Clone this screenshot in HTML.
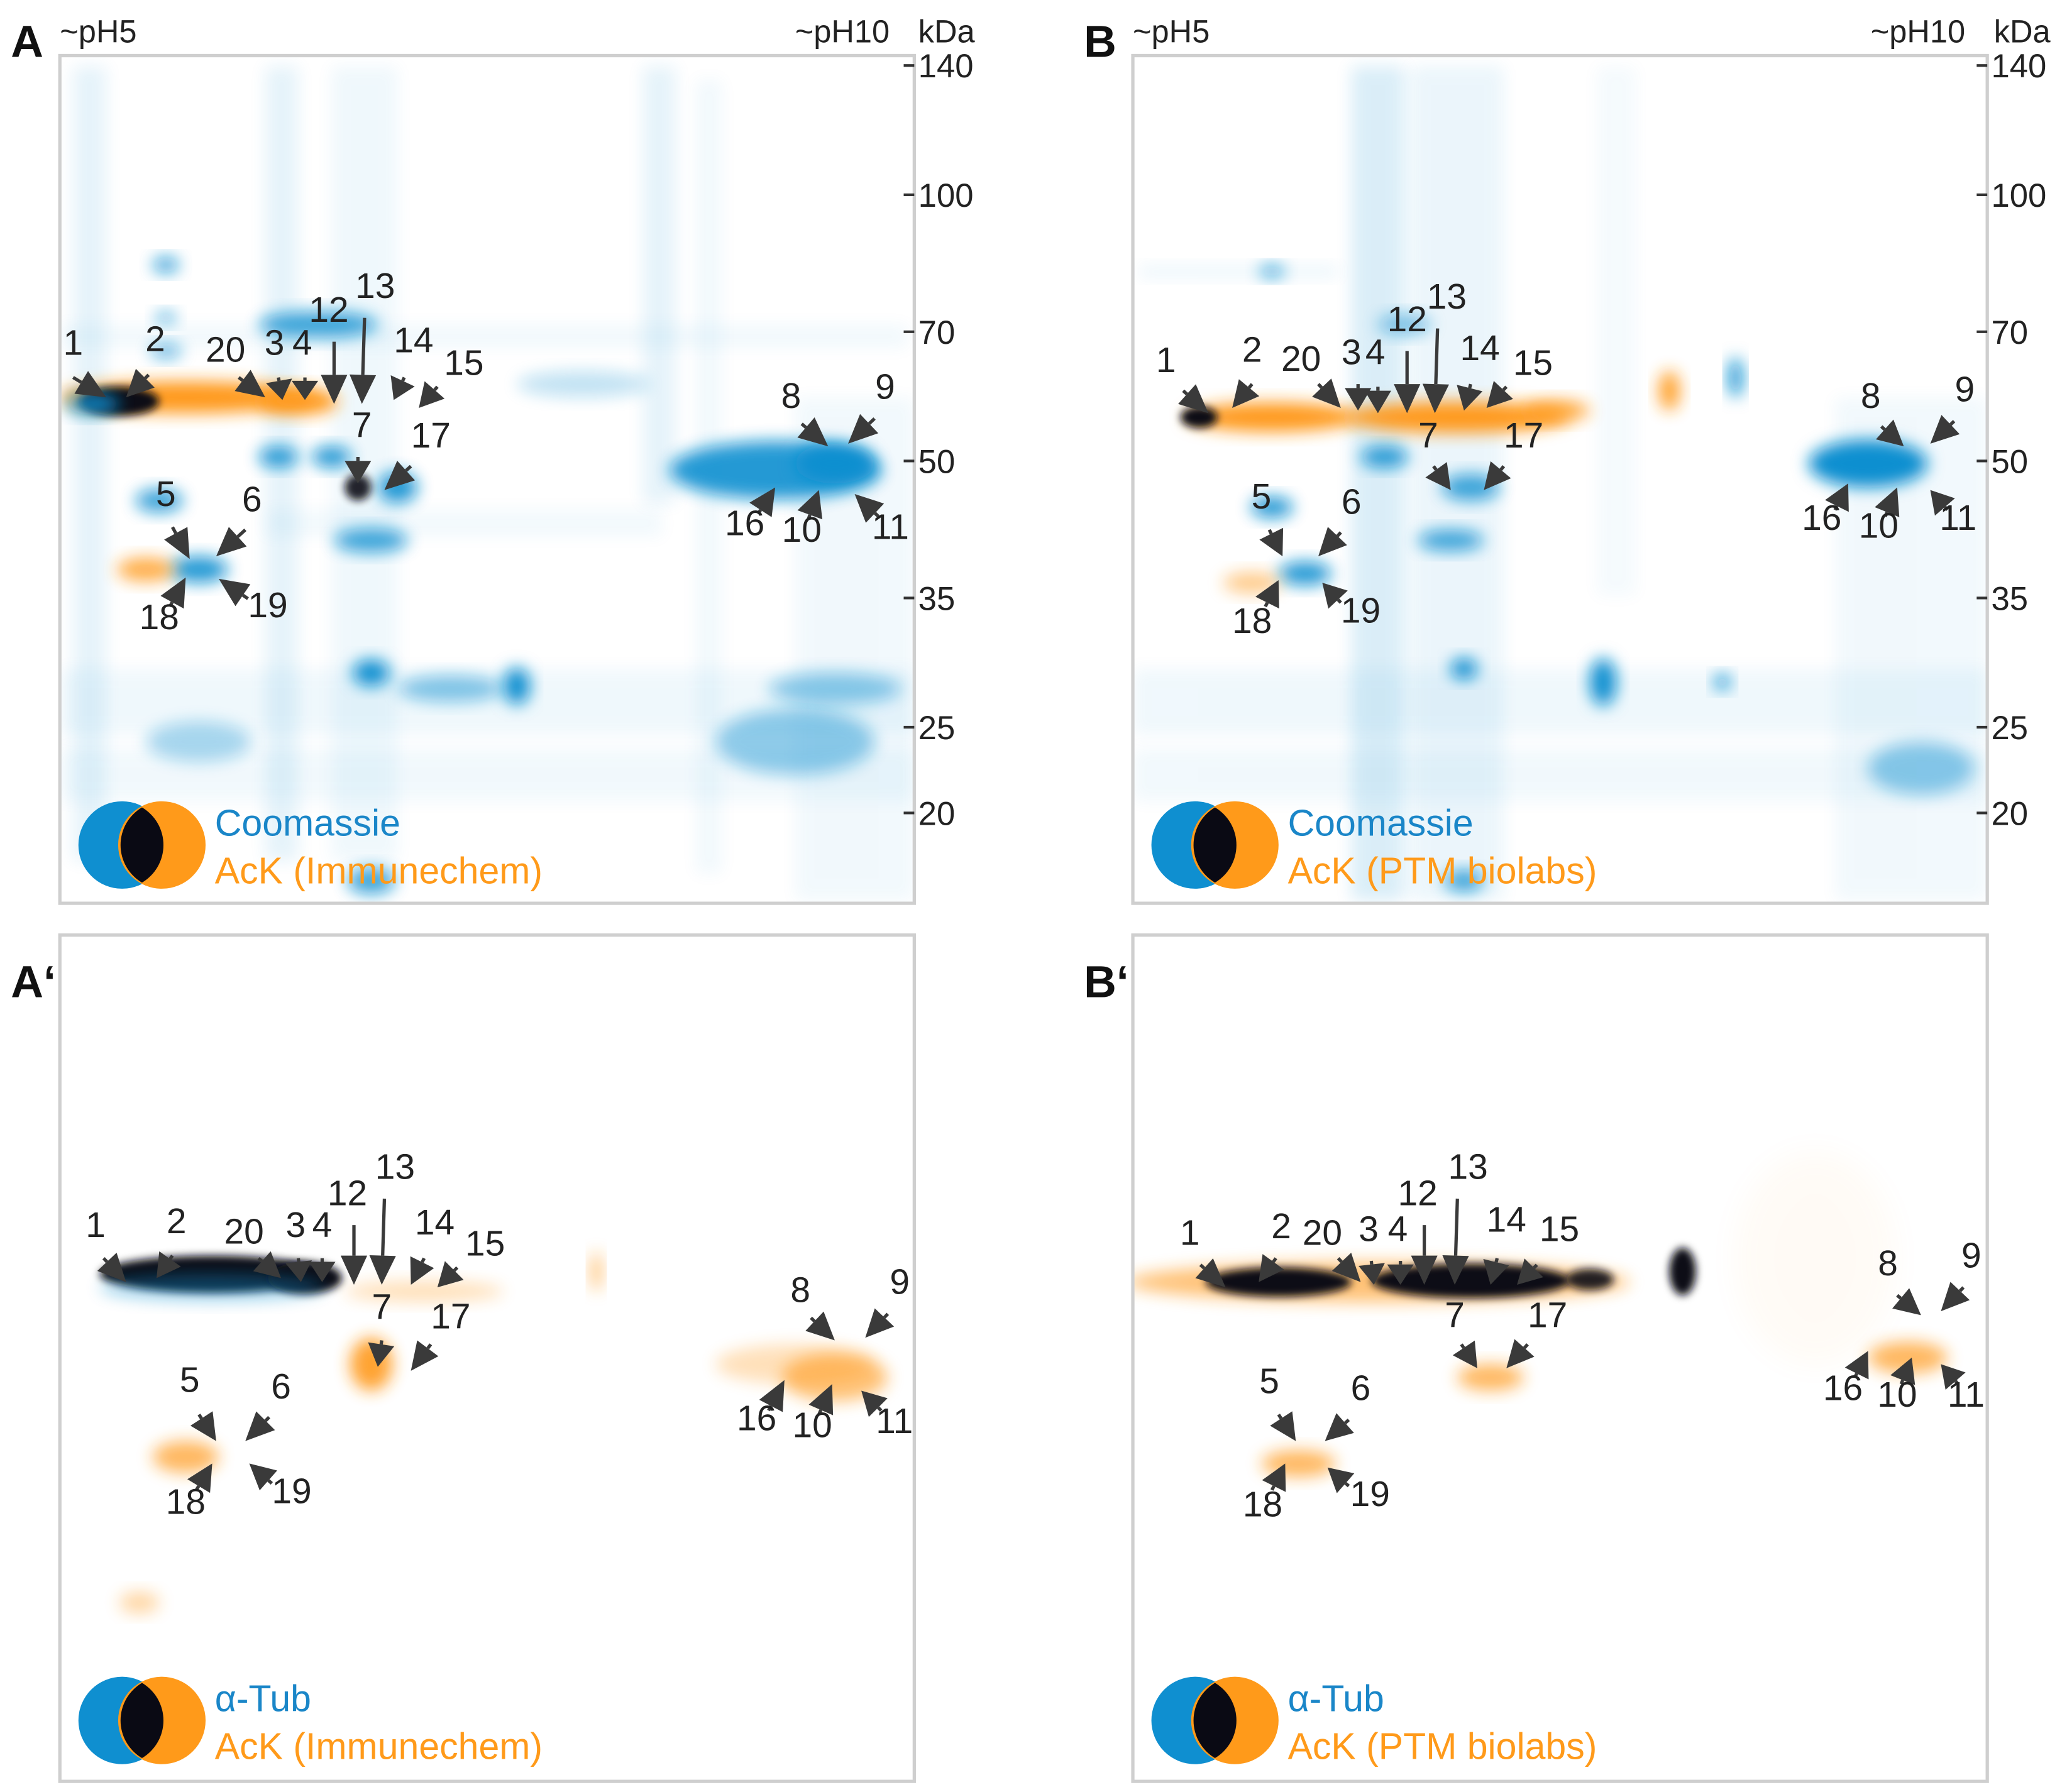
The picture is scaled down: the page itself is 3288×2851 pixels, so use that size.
<!DOCTYPE html>
<html><head><meta charset="utf-8"><style>
html,body{margin:0;padding:0;background:#fff;}
svg{display:block;font-family:"Liberation Sans","DejaVu Sans",sans-serif;}
</style></head><body>
<svg id="fig" width="3288" height="2851" viewBox="0 0 1560 1353" xmlns="http://www.w3.org/2000/svg">
<defs>
<filter id="b6" x="-50%" y="-50%" width="200%" height="200%"><feGaussianBlur stdDeviation="6"/></filter>
<filter id="b3" x="-50%" y="-50%" width="200%" height="200%"><feGaussianBlur stdDeviation="3"/></filter>
<filter id="b12" x="-50%" y="-50%" width="200%" height="200%"><feGaussianBlur stdDeviation="12"/></filter>
<clipPath id="cA"><rect x="45" y="42" width="645" height="640"/></clipPath>
<clipPath id="cB"><rect x="855" y="42" width="645" height="640"/></clipPath>
<clipPath id="cA2"><rect x="45" y="706" width="645" height="639"/></clipPath>
<clipPath id="cB2"><rect x="855" y="706" width="645" height="639"/></clipPath>
</defs>
<g id="gels"></g>
<g id="annot"></g>
</svg>
<script>
// kDa axis data
const kdaTicks=[140,100,70,50,35,25,20];
const kdaLabels=["140","100","70","50","35","25","20"];
const NS="http://www.w3.org/2000/svg";
const svg=document.getElementById('fig');
const gels=document.getElementById('gels');
const annot=document.getElementById('annot');
function yScale(k){return 344-290*(Math.log(k)-3.926);}
function el(tag,attrs,parent){const e=document.createElementNS(NS,tag);for(const k in attrs)e.setAttribute(k,attrs[k]);(parent||svg).appendChild(e);return e;}
const BLUE="#0f8fd0",ORANGE="#ff9a1a",BLACK="#0a0a14";
function blob(g,cx,cy,rx,ry,c,op,f){const e=el('ellipse',{cx:cx,cy:cy,rx:rx,ry:ry,fill:c,opacity:op,filter:'url(#'+(f||'b6')+')'},g);return e;}
function panel(name,x,y,w,h,clip,spots,streaks){
  const g=el('g',{'clip-path':'url(#'+clip+')'},gels);
  
  
  el('rect',{x:x,y:y,width:w,height:h,fill:'#fff'},g);
  (streaks||[]).forEach(s=>{const r=el('rect',{x:s[0],y:s[1],width:s[2],height:s[3],fill:BLUE,opacity:s[4],filter:'url(#b6)'},g);});
  spots.forEach(s=>blob(g,...s));
  const fr=el('rect',{x:x,y:y,width:w,height:h,fill:'none',stroke:'#cfcfcf','stroke-width':2.5},gels);
  
  
}
const strA=[[55,50,25,600,0.1],[200,50,25,600,0.1],[250,50,50,600,0.06],[485,50,25,330,0.1],[525,60,20,600,0.05],[45,505,645,50,0.06],[45,565,645,40,0.05],[200,385,300,20,0.05],[45,245,640,18,0.05],[600,300,90,380,0.05]];
const spotsA=[[125,200,10,6,BLUE,0.8],[125,240,8,5,BLUE,0.6],[125,265,12,6,BLUE,0.6],[240,245,45,10,BLUE,0.8],[210,345,15,8,BLUE,0.9],[250,345,15,8,BLUE,0.9],[300,368,15,12,BLUE,0.9],[120,378,18,9,BLUE,0.8],[150,430,22,10,BLUE,0.9],[110,430,22,9,ORANGE,0.8],[280,408,28,9,BLUE,0.8],[280,508,14,10,BLUE,1],[390,518,10,14,BLUE,1],[340,520,40,10,BLUE,0.5],[585,355,80,22,BLUE,0.9],[630,350,30,15,BLUE,1],[600,560,60,25,BLUE,0.45],[630,520,50,12,BLUE,0.45],[140,300,95,12,ORANGE,1],[225,303,30,10,ORANGE,1],[90,303,30,11,BLACK,1,'b3'],[70,305,20,8,BLUE,0.9],[270,368,10,10,BLACK,0.9,'b3'],[280,665,18,10,BLUE,0.8],[150,560,40,15,BLUE,0.35],[440,290,50,10,BLUE,0.25]];
const strB=[[1020,50,40,630,0.15],[1065,50,70,630,0.08],[860,200,150,10,0.07],[855,505,645,50,0.06],[855,565,645,40,0.05],[1385,300,115,380,0.05],[1205,50,30,400,0.04]];
const spotsB=[[960,205,10,5,BLUE,0.7],[960,383,16,8,BLUE,0.9],[985,433,20,9,BLUE,0.9],[945,440,22,8,ORANGE,0.5],[1045,345,18,8,BLUE,0.9],[1110,368,22,10,BLUE,0.8],[1095,408,25,8,BLUE,0.8],[1105,505,10,8,BLUE,1],[1210,515,10,18,BLUE,1],[1300,515,6,6,BLUE,0.9],[1410,350,45,18,BLUE,1],[1450,580,40,20,BLUE,0.45],[960,315,65,11,ORANGE,1],[1100,315,85,12,ORANGE,1],[1175,310,25,8,ORANGE,0.8],[1260,295,8,15,ORANGE,0.9],[1310,285,5,15,BLUE,1],[905,315,14,8,BLACK,1,'b3'],[1060,245,20,8,BLUE,0.5],[1105,665,15,8,BLUE,0.8]];
const spotsA2=[[160,962,85,14,BLACK,1,'b3'],[230,965,28,12,BLACK,1,'b3'],[160,972,85,10,BLUE,0.4],[280,1030,16,20,ORANGE,0.9],[630,1040,40,18,ORANGE,0.6],[600,1030,60,15,ORANGE,0.3],[140,1100,25,12,ORANGE,0.7],[105,1210,15,8,ORANGE,0.4],[450,960,4,15,ORANGE,0.6],[320,975,60,8,ORANGE,0.3]];
const spotsB2=[[1040,968,190,15,ORANGE,0.6,'b6'],[965,968,55,11,BLACK,1,'b3'],[1110,967,75,13,BLACK,1,'b3'],[1200,966,18,8,BLACK,0.9,'b3'],[1270,960,10,18,BLACK,1,'b3'],[1125,1040,25,10,ORANGE,0.7],[980,1105,28,10,ORANGE,0.7],[1440,1025,30,12,ORANGE,0.7],[1370,950,60,80,ORANGE,0.04,'b12']];
panel('panel-a-gel',45,42,645,640,'cA',spotsA,strA);
panel('panel-b-gel',855,42,645,640,'cB',spotsB,strB);
panel('panel-a-prime-gel',45,706,645,639,'cA2',spotsA2,[]);
panel('panel-b-prime-gel',855,706,645,639,'cB2',spotsB2,[]);

function text(x,y,s,size,fill,weight,anchor,name){const t=el('text',{x:x,y:y,'font-size':size,fill:fill||'#222','font-weight':weight||'normal','text-anchor':anchor||'start'},annot);t.textContent=s;return t;}
text(8,43,'A',34,'#111','bold','start','panel-label-a');
text(818,43,'B',34,'#111','bold','start','panel-label-b');
text(8,753,'A\u2018',34,'#111','bold','start','panel-label-a-prime');
text(818,753,'B\u2018',34,'#111','bold','start','panel-label-b-prime');
text(45,32,'~pH5',24,'#222','normal','start','ph5-label-a');
text(855,32,'~pH5',24,'#222','normal','start','ph5-label-b');
text(600,32,'~pH10',24,'#222','normal','start','ph10-label-a');
text(1412,32,'~pH10',24,'#222','normal','start','ph10-label-b');
text(693,32,'kDa',24,'#222','normal','start','kda-title-a');
text(1505,32,'kDa',24,'#222','normal','start','kda-title-b');
[690,1500].forEach((ax,pi)=>{
  kdaTicks.forEach((k,i)=>{
    const y=yScale(k);
    const l=el('line',{x1:ax-8,x2:ax,y1:y,y2:y,stroke:'#333','stroke-width':2},annot);
    
    
    text(ax+3,y+9,kdaLabels[i],25,'#222','normal','start','kda-tick-label');
  });
});
function legend(cx,cy,l1,l2,nm){
  const g=el('g',{},annot);
  
  
  el('circle',{cx:cx,cy:cy,r:33,fill:BLUE},g);
  el('circle',{cx:cx+30,cy:cy,r:33,fill:ORANGE},g);
  el('path',{d:`M${cx+15},${cy-28.4} A33,33 0 0 1 ${cx+15},${cy+28.4} A33,33 0 0 1 ${cx+15},${cy-28.4}Z`,fill:BLACK},g);
  text(cx+70,cy-7,l1,28,'#1a86c8','normal','start',nm+'-stain');
  text(cx+70,cy+29,l2,28,'#ff9a1a','normal','start',nm+'-antibody');
}
legend(92,638,'Coomassie','AcK (Immunechem)','legend-a');
legend(902,638,'Coomassie','AcK (PTM biolabs)','legend-b');
legend(92,1299,'\u03b1-Tub','AcK (Immunechem)','legend-a-prime');
legend(902,1299,'\u03b1-Tub','AcK (PTM biolabs)','legend-b-prime');
const ann=[
["1",55,268,55,285,80,300],["2",117,265,112,283,95,300],["20",170,273,180,285,200,300],["3",207,268,210,285,213,302],["4",228,268,230,285,230,302],["12",248,243,252,258,252,305],["13",283,225,275,240,273,305],["14",312,266,305,285,297,302],["15",350,283,330,292,316,308],["7",273,330,270,345,270,365],["17",325,338,310,352,290,370],["5",125,382,130,398,143,422],["6",190,386,185,400,163,420],["18",120,475,128,458,140,436],["19",202,466,187,452,165,437],["8",597,308,605,320,625,337],["9",668,301,660,316,640,335],["16",562,404,572,388,585,368],["10",605,409,610,392,618,370],["11",672,407,663,390,645,373],
["1",880,281,893,295,912,312],["2",945,273,945,290,930,308],["20",982,280,995,290,1012,308],["3",1020,275,1025,290,1025,310],["4",1038,275,1040,292,1040,312],["12",1062,250,1062,265,1062,312],["13",1092,233,1085,248,1083,312],["14",1117,272,1110,290,1105,310],["15",1157,283,1137,292,1122,308],["7",1078,338,1082,352,1095,370],["17",1150,338,1135,352,1120,370],["5",952,384,958,400,968,420],["6",1020,388,1012,402,995,420],["18",945,478,955,458,965,438],["19",1027,470,1012,455,998,440],["8",1412,308,1420,322,1437,337],["9",1483,303,1475,318,1457,335],["16",1375,400,1385,385,1395,365],["10",1418,406,1423,390,1432,368],["11",1478,400,1470,385,1457,370],
["1",72,934,78,950,95,968],["2",133,931,130,948,118,965],["20",184,939,195,950,212,965],["3",223,934,225,950,227,968],["4",243,934,243,950,243,968],["12",262,910,267,925,267,970],["13",298,890,290,905,288,970],["14",328,932,320,950,310,970],["15",366,948,345,957,330,972],["7",288,996,288,1012,285,1032],["17",340,1003,325,1015,310,1035],["5",143,1051,150,1068,163,1088],["6",212,1056,203,1070,185,1088],["18",140,1143,148,1125,160,1105],["19",220,1135,205,1120,188,1105],["8",604,983,612,995,630,1012],["9",679,977,670,992,653,1010],["16",571,1080,580,1065,592,1042],["10",613,1085,618,1068,628,1045],["11",675,1082,665,1065,650,1050],
["1",898,940,906,955,925,972],["2",967,935,963,950,950,968],["20",998,940,1010,950,1027,968],["3",1033,937,1035,952,1037,970],["4",1055,937,1057,952,1057,970],["12",1070,910,1075,925,1075,970],["13",1108,890,1100,905,1098,970],["14",1137,930,1130,950,1125,970],["15",1177,937,1160,955,1145,970],["7",1098,1002,1103,1015,1115,1033],["17",1168,1002,1153,1015,1137,1033],["5",958,1052,965,1068,978,1088],["6",1027,1057,1018,1072,1000,1088],["18",953,1145,960,1125,970,1105],["19",1034,1137,1018,1122,1002,1108],["8",1425,963,1432,978,1450,993],["9",1488,957,1482,972,1465,990],["16",1391,1057,1400,1040,1410,1020],["10",1432,1062,1435,1045,1443,1025],["11",1484,1062,1478,1045,1465,1030]
];
ann.forEach(a=>{
  const [lab,lx,ly,x1,y1,x2,y2]=a;
  const dx=x2-x1,dy=y2-y1,L=Math.hypot(dx,dy),ux=dx/L,uy=dy/L;
  const hl=Math.min(22,L*0.85),hw=10;
  const bx=x2-ux*hl,by=y2-uy*hl;
  const g=el('g',{},annot);
  
  
  el('line',{x1:x1,y1:y1,x2:bx,y2:by,stroke:'#3a3a3a','stroke-width':2.5},g);
  el('polygon',{points:`${x2},${y2} ${bx-uy*hw},${by+ux*hw} ${bx+uy*hw},${by-ux*hw}`,fill:'#3a3a3a'},g);
  text(lx,ly,lab,27,'#222','normal','middle','spot-label-'+lab);
});
</script>
</body></html>
